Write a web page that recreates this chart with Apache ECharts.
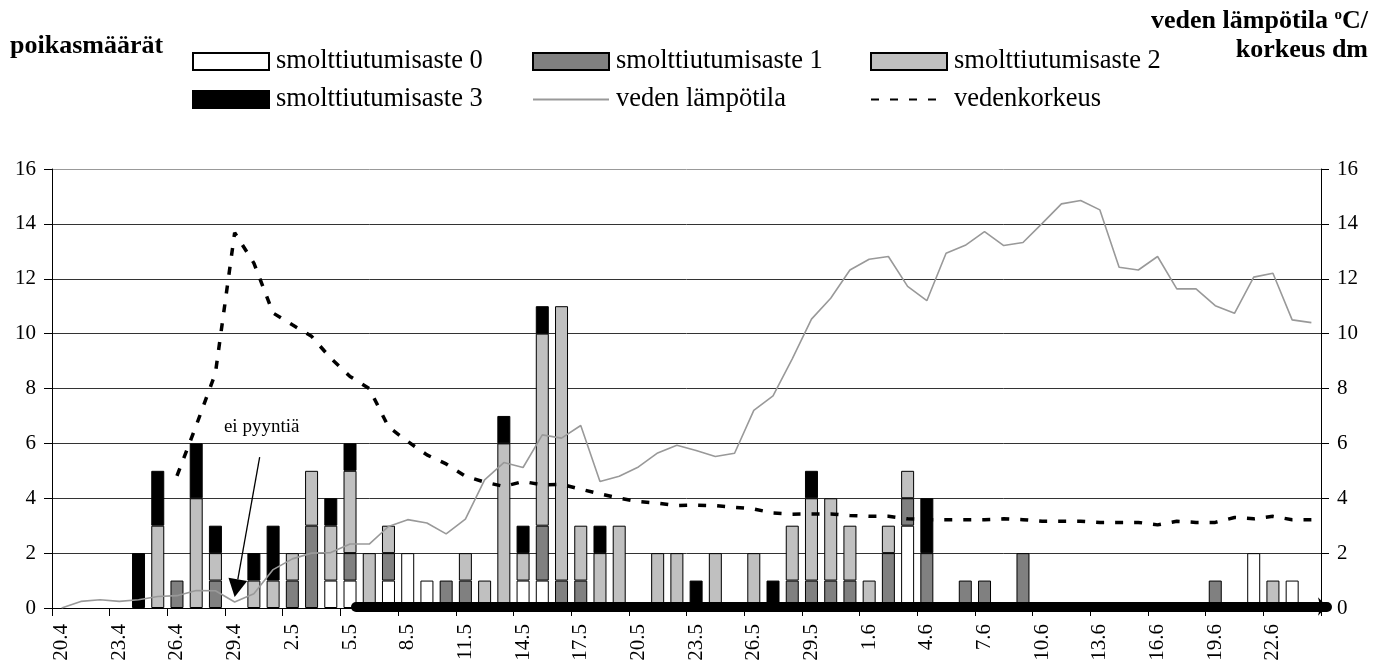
<!DOCTYPE html>
<html><head><meta charset="utf-8">
<script src="https://cdn.jsdelivr.net/npm/echarts@6/dist/echarts.min.js"></script>
<style>html,body{margin:0;padding:0;background:#fff}#c{width:1388px;height:669px}</style>
</head><body><div id="c"></div>
<script>
// ---- DATA ----
const dates = ['20.4','21.4','22.4','23.4','24.4','25.4','26.4','27.4','28.4','29.4','30.4',
  '1.5','2.5','3.5','4.5','5.5','6.5','7.5','8.5','9.5','10.5','11.5','12.5','13.5','14.5','15.5','16.5','17.5','18.5','19.5','20.5',
  '21.5','22.5','23.5','24.5','25.5','26.5','27.5','28.5','29.5','30.5','31.5',
  '1.6','2.6','3.6','4.6','5.6','6.6','7.6','8.6','9.6','10.6','11.6','12.6','13.6','14.6','15.6','16.6','17.6','18.6','19.6','20.6',
  '21.6','22.6','23.6','24.6'];
const stage0 = [0,0,0,0,0,0,0,0,0,0, 0,0,0,0,1,1,0,1,2,1, 0,0,0,0,1,1,0,0,0,0, 0,0,0,0,0,0,0,0,0,0, 0,0,0,0,3,0,0,0,0,0, 0,0,0,0,0,0,0,0,0,0, 0,0,2,0,1,0];
const stage1 = [0,0,0,0,0,0,1,0,1,0, 0,0,1,3,0,1,0,1,0,0, 1,1,0,0,0,2,1,1,0,0, 0,0,0,0,0,0,0,0,1,1, 1,1,0,2,1,2,0,1,1,0, 2,0,0,0,0,0,0,0,0,0, 1,0,0,0,0,0];
const stage2 = [0,0,0,0,0,3,0,4,1,0, 1,1,1,2,2,3,2,1,0,0, 0,1,1,6,1,7,10,2,2,3, 0,2,2,0,2,0,2,0,2,3, 3,2,1,1,1,0,0,0,0,0, 0,0,0,0,0,0,0,0,0,0, 0,0,0,1,0,0];
const stage3 = [0,0,0,0,2,2,0,2,1,0, 1,2,0,0,1,1,0,0,0,0, 0,0,0,1,1,1,0,0,1,0, 0,0,0,1,0,0,0,1,0,1, 0,0,0,0,0,2,0,0,0,0, 0,0,0,0,0,0,0,0,0,0, 0,0,0,0,0,0];
const waterTemp = [0.0,0.24,0.3,0.24,0.3,0.42,0.45,0.64,0.63,0.22, 0.52,1.4,1.79,2.0,2.02,2.33,2.33,2.97,3.22,3.1,
  2.7,3.24,4.67,5.3,5.12,6.31,6.19,6.65,4.61,4.8, 5.14,5.65,5.93,5.74,5.52,5.64,7.2,7.73,9.08,10.53,
  11.29,12.32,12.71,12.81,11.72,11.2,12.93,13.22,13.72,13.21, 13.32,14.02,14.73,14.85,14.51,12.42,12.32,12.81,11.63,11.63,
  11.02,10.74,12.06,12.2,10.5,10.4];
const waterLevel = [null,null,null,null,null,null,4.82,6.65,8.56,13.68, 12.57,10.75,10.32,9.9,9.1,8.44,8.0,6.6,6.07,5.58,
  5.25,4.8,4.59,4.43,4.61,4.49,4.51,4.33,4.16,4.0, 3.88,3.82,3.73,3.75,3.73,3.67,3.61,3.46,3.42,3.43,
  3.43,3.37,3.34,3.34,3.25,3.22,3.22,3.22,3.22,3.25, 3.22,3.16,3.16,3.16,3.12,3.12,3.12,3.03,3.16,3.12,
  3.12,3.3,3.25,3.34,3.22,3.22];
const fishingPeriod = ['5.5', '24.6'];
const noFishingDay = '29.4';
const yTicks = [0, 16, 2];
const names = ['smolttiutumisaste 0','smolttiutumisaste 1','smolttiutumisaste 2','smolttiutumisaste 3','veden lämpötila','vedenkorkeus'];

// ---- CHART ----
const FONT = "'Liberation Serif','Times New Roman',serif";
const nz = a => a.map(v => v === 0 ? null : v);
const barStyle = c => ({color: c, borderColor: '#000', borderWidth: 1});
const chart = echarts.init(document.getElementById('c'), null, {renderer: 'canvas'});

const legendPos = [[192,48],[532,48],[870,48],[192,86],[532,86],[870,86]];
const legends = names.map((n, i) => {
  const l = {
    data: [n], left: legendPos[i][0], top: legendPos[i][1], padding: 0,
    itemWidth: 76, itemHeight: 17, itemGap: 0, selectedMode: false,
    textStyle: {fontFamily: FONT, fontSize: 26.5, color: '#000', lineHeight: 26, padding: [0,0,0,2]}
  };
  if (i < 4) l.icon = 'rect';
  else l.itemStyle = {opacity: 0, color: 'transparent', borderWidth: 0};
  return l;
});

const yAxisBase = {
  type: 'value', min: yTicks[0], max: yTicks[1], interval: yTicks[2],
  axisLine: {show: true, lineStyle: {color: '#000', width: 1}},
  axisTick: {show: true, length: 8, lineStyle: {color: '#000'}},
  axisLabel: {fontFamily: FONT, fontSize: 21, color: '#000', margin: 16}
};

const option = {
  animation: false,
  backgroundColor: '#fff',
  grid: {left: 52, right: 67, top: 169, bottom: 61},
  legend: legends,
  xAxis: {
    type: 'category', data: dates, boundaryGap: true,
    axisLine: {lineStyle: {color: '#000', width: 1}},
    axisTick: {show: true, interval: 2, length: 8, lineStyle: {color: '#000'}},
    axisLabel: {interval: 2, rotate: 90, fontFamily: FONT, fontSize: 21, color: '#000', margin: 16}
  },
  yAxis: [
    Object.assign({}, yAxisBase, {position: 'left', splitLine: {show: true, lineStyle: {color: ['#333','#333','#333','#333','#333','#333','#333','#333','#999'], width: 1}}}),
    Object.assign({}, yAxisBase, {position: 'right', splitLine: {show: false}})
  ],
  series: [
    {name: names[0], type: 'bar', stack: 'p', barWidth: 13, data: nz(stage0), itemStyle: barStyle('#ffffff')},
    {name: names[1], type: 'bar', stack: 'p', barWidth: 13, data: nz(stage1), itemStyle: barStyle('#808080')},
    {name: names[2], type: 'bar', stack: 'p', barWidth: 13, data: nz(stage2), itemStyle: barStyle('#c0c0c0')},
    {name: names[3], type: 'bar', stack: 'p', barWidth: 13, data: nz(stage3), itemStyle: barStyle('#000000')},
    {name: names[4], type: 'line', yAxisIndex: 1, data: waterTemp, symbol: 'none',
      lineStyle: {color: '#999', width: 1.6}, itemStyle: {color: '#999'}, z: 3},
    {name: names[5], type: 'line', yAxisIndex: 1, data: waterLevel, symbol: 'none',
      lineStyle: {color: '#000', width: 3.5, type: [8, 11]}, itemStyle: {color: '#000'}, z: 4},
    {id: 'pyynti', name: 'pyynti', type: 'line', data: dates.map(() => null), symbol: 'none', z: 5}
  ]
};
chart.setOption(option);

// fishing-period bar along the zero line: from the first fishing day to the end of the axis
const p0 = chart.convertToPixel({xAxisIndex: 0, yAxisIndex: 0}, [fishingPeriod[0], 0]);
const pA = chart.convertToPixel({xAxisIndex: 0, yAxisIndex: 0}, [fishingPeriod[1], 0]);
const band = chart.convertToPixel({xAxisIndex: 0}, dates[1]) - chart.convertToPixel({xAxisIndex: 0}, dates[0]);
const yLine = p0[1] - 1.5;
chart.setOption({series: [{id: 'pyynti',
  markLine: {silent: true, symbol: ['none', 'arrow'], symbolSize: [14, 9], label: {show: false},
    lineStyle: {color: '#000', width: 10, type: 'solid', cap: 'round'},
    emphasis: {disabled: true},
    data: [[{x: p0[0] + 6, y: yLine}, {x: pA[0] + band / 2 + 6, y: yLine}]]}}]});

// annotation, anchored to the data point of the no-fishing day
const tip = chart.convertToPixel({xAxisIndex: 0, yAxisIndex: 0}, [noFishingDay, 0.4]);
const start = [tip[0] + 25, tip[1] - 140];
const dx = tip[0] - start[0], dy = tip[1] - start[1];
const L = Math.hypot(dx, dy), ux = dx / L, uy = dy / L, nx = -uy, ny = ux;
const hl = 18, hw = 9.5;
const bc = [tip[0] - hl * ux, tip[1] - hl * uy];
chart.setOption({graphic: [
  {type: 'text', left: 10, top: 33, style: {text: 'poikasmäärät', font: "bold 26px 'Liberation Serif','Times New Roman',serif", fill: '#000'}},
  {type: 'text', right: 20, top: 8, style: {text: 'veden lämpötila {s|o}C/', font: "bold 26px 'Liberation Serif','Times New Roman',serif", fill: '#000',
    rich: {s: {fontSize: 15, fontWeight: 'bold', fontFamily: FONT, padding: [0, 0, 12, 0]}}}},
  {type: 'text', right: 20, top: 37, style: {text: 'korkeus dm', font: "bold 26px 'Liberation Serif','Times New Roman',serif", fill: '#000'}},
  {type: 'text', x: tip[0] + 27, y: tip[1] - 170, style: {text: 'ei pyyntiä', font: "19px 'Liberation Serif','Times New Roman',serif", fill: '#000', textAlign: 'center', textVerticalAlign: 'middle'}},
  {type: 'line', shape: {x1: start[0], y1: start[1], x2: bc[0], y2: bc[1]}, style: {stroke: '#000', lineWidth: 1.3}},
  {type: 'polygon', shape: {points: [tip, [bc[0] + hw * nx, bc[1] + hw * ny], [bc[0] - hw * nx, bc[1] - hw * ny]]}, style: {fill: '#000'}}
]});
</script>
</body></html>
